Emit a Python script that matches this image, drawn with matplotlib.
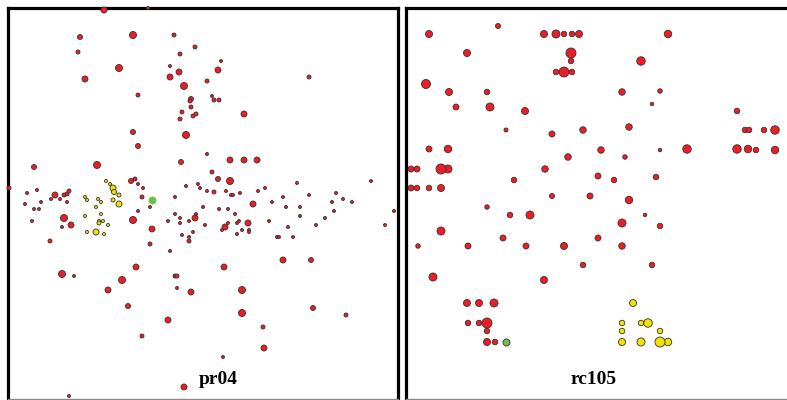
import matplotlib.pyplot as plt

# point positions (pixel-like units), d = marker diameter
pr04_red = [
    (104, 10, 6), (148, 8, 3), (80, 37, 5), (133, 35, 7), (174, 35, 4), (195, 47, 4),
    (78, 52, 4), (180, 54, 4), (119, 68, 7), (170, 66, 3), (179, 72, 6), (85, 79, 6),
    (170, 77, 6), (184, 86, 7), (138, 95, 4), (191, 99, 5), (190, 101, 4), (191, 107, 4),
    (182, 112, 4), (180, 119, 4), (193, 116, 4), (196, 114, 4), (133, 132, 5), (186, 135, 7),
    (138, 146, 5), (181, 162, 5), (34, 167, 5), (97, 165, 7), (131, 181, 5), (135, 179, 4),
    (138, 184, 3), (143, 188, 3), (186, 186, 3), (198, 184, 3),
    (221, 61, 3), (218, 70, 6), (207, 81, 4), (309, 77, 4), (212, 96, 3), (214, 100, 4),
    (219, 100, 4), (244, 114, 6), (207, 154, 3), (230, 160, 6), (244, 160, 6), (257, 160, 6),
    (212, 172, 4), (218, 179, 5), (230, 181, 7), (200, 188, 3), (207, 191, 3), (214, 192, 4),
    (226, 191, 3), (231, 195, 3), (233, 195, 3), (240, 193, 3), (258, 191, 3), (265, 188, 3),
    (297, 183, 3), (283, 197, 3), (309, 195, 3), (336, 193, 3), (343, 199, 3), (371, 181, 3),
    (9, 188, 4), (27, 193, 3), (37, 190, 3), (55, 195, 6), (64, 195, 4), (67, 194, 4),
    (69, 191, 4), (41, 202, 3), (51, 199, 3), (60, 199, 3), (67, 202, 3), (25, 204, 3),
    (34, 209, 3), (39, 209, 3), (64, 218, 7), (71, 225, 6), (32, 221, 3), (62, 227, 3),
    (50, 241, 4),
    (133, 220, 7), (138, 211, 3), (142, 197, 4), (150, 207, 3), (175, 197, 3), (175, 214, 3),
    (180, 218, 3), (180, 223, 3), (168, 221, 3), (189, 221, 3), (195, 218, 6), (196, 214, 3),
    (193, 232, 3), (182, 235, 3), (189, 237, 3), (189, 241, 4), (152, 229, 6), (150, 244, 4),
    (170, 251, 3),
    (136, 267, 6), (62, 274, 7), (74, 276, 3), (122, 280, 7), (108, 290, 6), (128, 306, 5),
    (175, 276, 4), (177, 276, 4), (177, 288, 3), (191, 292, 6), (168, 320, 6), (142, 336, 4),
    (184, 387, 6), (69, 396, 3),
    (203, 207, 3), (219, 209, 3), (228, 209, 3), (235, 214, 3), (253, 204, 6), (205, 225, 3),
    (225, 227, 6), (222, 230, 3), (228, 223, 3), (237, 223, 3), (239, 221, 3), (248, 223, 6),
    (242, 230, 3), (249, 230, 3), (249, 232, 3), (237, 234, 3),
    (272, 202, 3), (286, 207, 3), (300, 207, 3), (332, 202, 3), (352, 202, 3), (334, 211, 3),
    (300, 216, 3), (269, 221, 3), (325, 218, 3), (316, 225, 3), (288, 227, 3), (385, 225, 3),
    (394, 211, 3), (277, 237, 3), (279, 237, 3), (293, 237, 3),
    (224, 267, 6), (283, 260, 6), (311, 260, 5), (242, 290, 7), (242, 313, 7), (313, 308, 5),
    (346, 315, 4), (263, 327, 4), (264, 348, 6), (223, 357, 3),
]
pr04_yellow = [
    (106, 181, 3), (110, 184, 3), (113, 188, 6), (114, 192, 5), (119, 195, 4), (113, 200, 4),
    (119, 204, 6), (85, 197, 3), (87, 200, 3), (98, 199, 3), (101, 202, 3), (96, 207, 3),
    (101, 214, 3), (85, 216, 3), (99, 221, 3), (99, 223, 4), (103, 221, 3), (108, 225, 3),
    (96, 232, 6), (87, 232, 3), (104, 234, 3),
]
pr04_green = [(152, 200, 7)]

rc105_red = [
    (429, 34, 7), (498, 26, 5), (544, 34, 7), (556, 34, 8), (564, 34, 5.5), (572, 34, 5.5),
    (579, 34, 7), (571, 53, 10), (571, 61, 5.5), (556, 72, 5.5), (572, 72, 5.5), (564, 72, 10),
    (467, 53, 7), (426, 84, 9), (449, 92, 7), (487, 92, 5.5), (456, 107, 6), (490, 107, 8),
    (525, 111, 7), (506, 130, 4), (552, 134, 6), (583, 130, 6.5), (429, 149, 6), (448, 149, 7.5),
    (411, 169, 6), (417, 169, 6), (448, 169, 8), (441, 169, 10), (411, 188, 6), (417, 188, 5.5),
    (429, 188, 5.5), (441, 188, 7), (568, 157, 6.5), (545, 169, 6.5), (514, 180, 5.5),
    (552, 196, 5), (590, 196, 6),
    (668, 34, 7.5), (641, 61, 8.5), (622, 92, 6.5), (660, 91, 4.5), (652, 104, 3.5),
    (629, 127, 6.5), (737, 111, 5.5), (745, 130, 5.5), (749, 130, 5.5), (764, 130, 5.5),
    (775, 130, 8.5), (601, 150, 6.5), (625, 157, 4.5), (660, 150, 3.5), (687, 149, 8.5),
    (737, 149, 8.5), (748, 149, 7.5), (756, 150, 5.5), (775, 150, 7.5), (598, 176, 6),
    (614, 180, 5.5), (656, 177, 5.5), (629, 200, 7.5),
    (487, 207, 4.5), (510, 215, 5.5), (530, 215, 8), (441, 231, 8), (418, 246, 4.5),
    (468, 246, 6), (503, 238, 6), (526, 246, 6), (564, 246, 7), (583, 265, 5.5), (433, 277, 8),
    (544, 280, 7), (467, 303, 7), (479, 303, 7), (494, 303, 8), (468, 323, 5.5), (479, 323, 5.5),
    (487, 331, 5.5), (487, 323, 10), (487, 342, 7), (495, 342, 5.5),
    (645, 215, 3.5), (622, 223, 8), (660, 226, 5.5), (598, 238, 6), (622, 246, 6.5),
    (652, 265, 5.5),
]
rc105_yellow = [
    (633, 303, 7), (622, 323, 5.5), (641, 323, 5.5), (648, 323, 8.5), (622, 331, 5.5),
    (660, 331, 5.5), (622, 342, 7), (641, 342, 8), (668, 342, 7.5), (660, 342, 10),
]
rc105_green = [(506, 342, 7)]

RED = '#ee1c24'
YELLOW = '#f2e200'
GREEN = '#6cbf4a'
W, H = 787, 400


def panel(fig, x0, x1, y0, y1, label, lx):
    ax = fig.add_axes([x0 / W, 1 - y1 / H, (x1 - x0) / W, (y1 - y0) / H])
    ax.set_xlim(x0, x1)
    ax.set_ylim(y1, y0)
    ax.set_xticks([])
    ax.set_yticks([])
    for s in ['left', 'top', 'right']:
        ax.spines[s].set_color('black')
        ax.spines[s].set_linewidth(2.3)
    ax.spines['bottom'].set_color('#888888')
    ax.spines['bottom'].set_linewidth(1.0)
    ax.text(lx, 380, label, ha='center', va='center', fontsize=14,
            fontweight='bold', family='Liberation Serif')
    return ax


def dots(ax, pts, color, edge='#333333'):
    xs = [p[0] for p in pts]
    ys = [p[1] for p in pts]
    ss = [(p[2] * 0.72) ** 2 for p in pts]
    ax.scatter(xs, ys, s=ss, c=color, edgecolors=edge, linewidths=0.6,
               zorder=3, clip_on=False)


fig = plt.figure(figsize=(7.87, 4.0), dpi=100)

ax1 = panel(fig, 8, 398, 8, 399, 'pr04', 218)
dots(ax1, pr04_red, RED)
dots(ax1, pr04_yellow, YELLOW)
dots(ax1, pr04_green, GREEN, edge=GREEN)

ax2 = panel(fig, 406, 788, 8, 399, 'rc105', 594)
ax2.spines['right'].set_visible(False)
dots(ax2, rc105_red, RED)
dots(ax2, rc105_yellow, YELLOW)
dots(ax2, rc105_green, GREEN)

fig.savefig('out.png', dpi=100)
